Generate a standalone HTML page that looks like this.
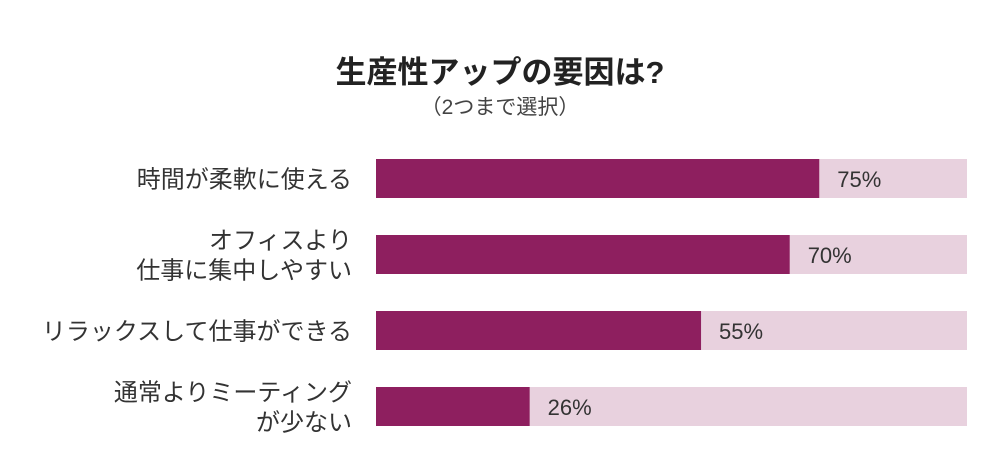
<!DOCTYPE html>
<html><head><meta charset="utf-8">
<style>
body{margin:0;width:1000px;height:465px;background:#fff;overflow:hidden;font-family:"Liberation Sans","Noto Sans CJK JP",sans-serif;color:#333}
svg text{font-family:"Liberation Sans","Noto Sans CJK JP",sans-serif}
</style></head><body>
<svg id="c" width="1000" height="465">
<text x="500" y="83" text-anchor="middle" font-size="31" font-weight="bold" fill="#222">生産性アップの要因は?</text>
<text x="500" y="114" text-anchor="middle" font-size="21" fill="#444">（2つまで選択）</text>
</svg>
<script>
const categories=[["時間が柔軟に使える"],["オフィスより","仕事に集中しやすい"],["リラックスして仕事ができる"],["通常よりミーティング","が少ない"]];
const values=[75,70,55,26];
const svg=document.getElementById('c');
const NS='http://www.w3.org/2000/svg';
const x0=376,x1=967,rowTop=159,rowStep=76,barH=39;
const xs=v=>x0+(x1-x0)*v/100;
function mk(t,a){const e=document.createElementNS(NS,t);for(const k in a)e.setAttribute(k,a[k]);svg.appendChild(e);return e;}
values.forEach((v,i)=>{
 const y=rowTop+i*rowStep;
 const tr=mk('rect',{x:x0,y:y,width:x1-x0,height:barH,fill:'#e8d1de'});
 
 
 const b=mk('rect',{x:x0,y:y,width:xs(v)-x0,height:barH,fill:'#8e1f5f'});
 
 
 const t=mk('text',{x:xs(v)+18,y:y+28,'font-size':22,fill:'#333'});
 t.textContent=v+'%';
 
 
 const lines=categories[i];
 lines.forEach((l,j)=>{
  const cy=y+barH/2+9+(j-(lines.length-1)/2)*30;
  const lt=mk('text',{x:352,y:cy,'text-anchor':'end','font-size':24,fill:'#333'});
  lt.textContent=l;
  
  
 });
});
</script>
</body></html>
